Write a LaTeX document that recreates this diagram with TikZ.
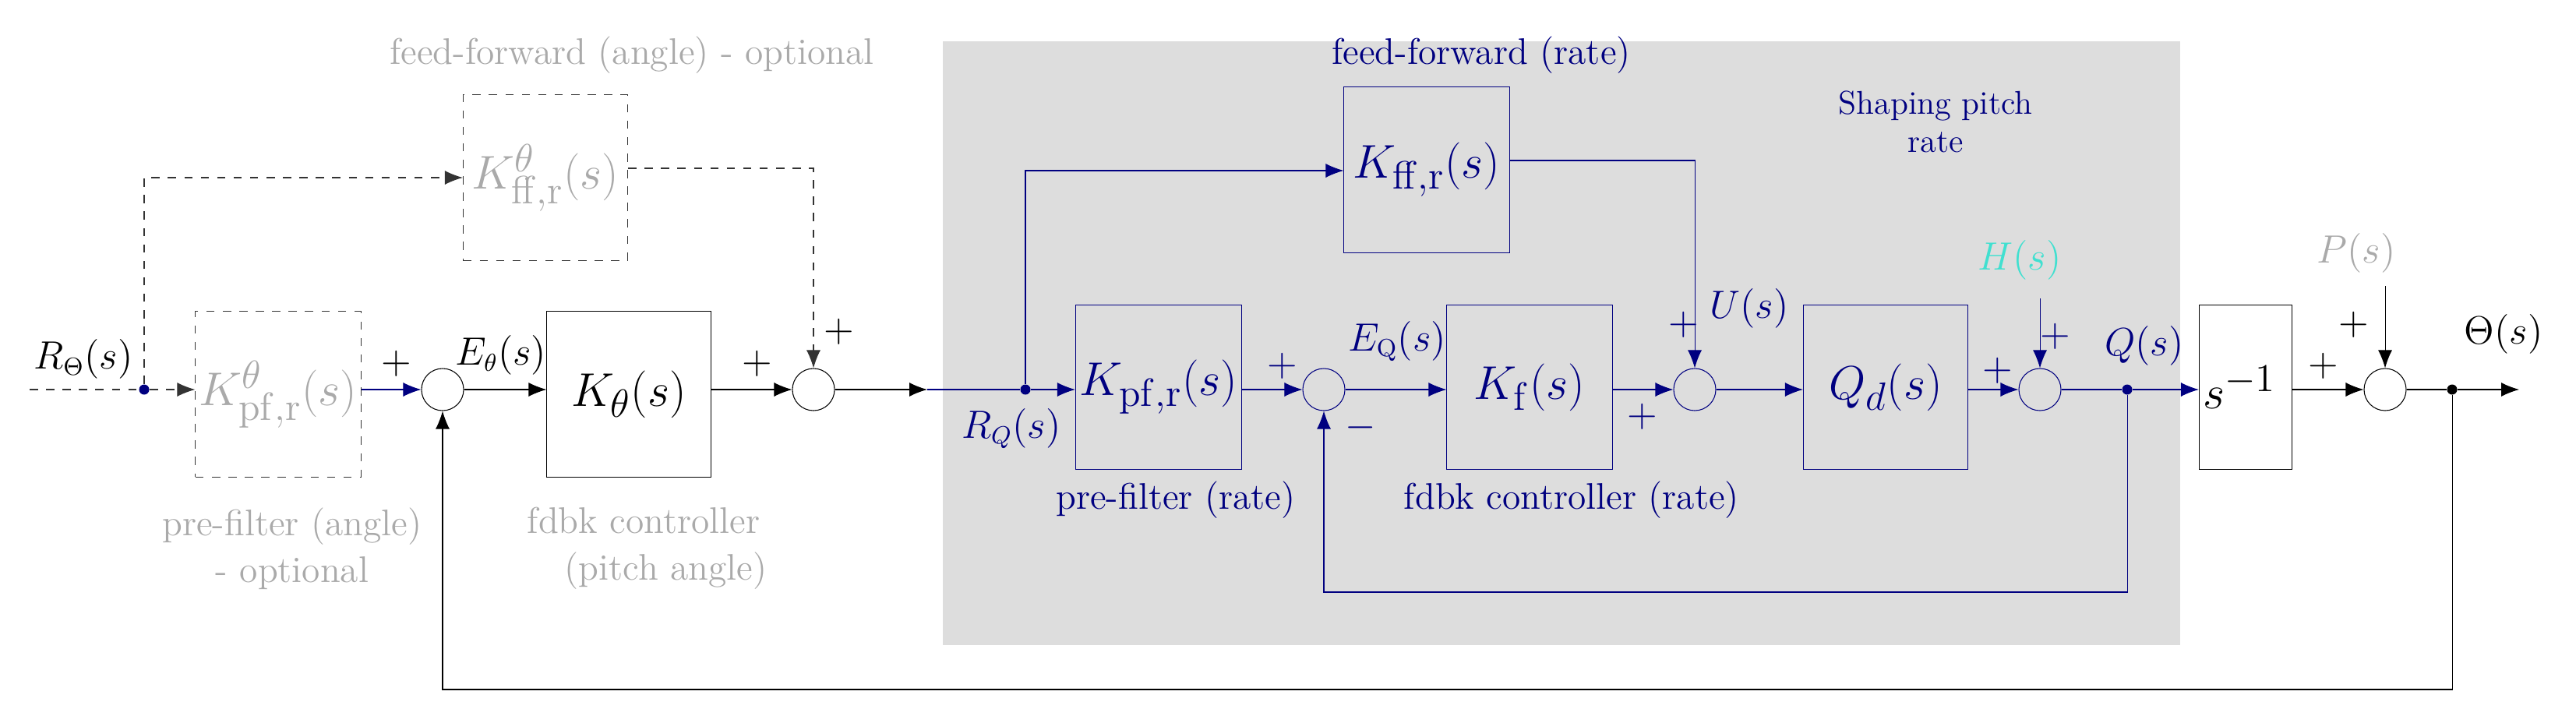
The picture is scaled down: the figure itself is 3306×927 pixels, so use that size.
\documentclass[tikz,border=0pt]{standalone}
\usetikzlibrary{arrows.meta}
\definecolor{nv}{RGB}{0,0,128}
\definecolor{gt}{RGB}{170,170,170}
\definecolor{cy}{RGB}{64,224,208}
\definecolor{bgg}{RGB}{221,221,221}
\begin{document}
\begin{tikzpicture}[x=0.01cm,y=-0.01cm,line width=0.3pt,
  arr/.style={-{Latex[length=0.23cm,width=0.18cm]}},
  blk/.style={draw,rectangle,inner sep=0pt,font=\fontsize{19}{22}\selectfont},
  sm/.style={draw,circle,minimum size=0.54cm,inner sep=0pt},
  dot/.style={circle,fill,inner sep=0pt,minimum size=0.13cm},
  lb/.style={font=\fontsize{13.5}{17}\selectfont},
  pl/.style={font=\Large}]
\useasboundingbox (0,0) rectangle (3306,927);
\fill[bgg] (1210,53) rectangle (2798,828);
% left part
\coordinate (in) at (38,500);
\node[dot,nv] (d0) at (185,500) {};
\node[blk,dashed,gt,draw=black!80,minimum width=2.12cm,minimum height=2.12cm] (kpft) at (357,506) {$K^{\theta}_{\mathrm{pf,r}}(s)$};
\node[sm,fill=white] (s1) at (568,500) {};
\node[blk,minimum width=2.1cm,minimum height=2.12cm] (kt) at (807,506) {$K_{\theta}(s)$};
\node[sm,fill=white] (s2) at (1044,500) {};
\node[blk,dashed,gt,draw=black!80,minimum width=2.11cm,minimum height=2.12cm] (kfft) at (700,228) {$K^{\theta}_{\mathrm{ff,r}}(s)$};
\draw[dashed,black!80] (in) -- (d0);
\draw[dashed,black!80,arr] (d0) -- (kpft.west |- d0);
\draw[dashed,black!80,arr] (d0) |- (kfft.west);
\draw[dashed,black!80,arr] (kfft.east |- 0,216) -| (s2.north);
\draw[nv,arr] (kpft.east |- s1) -- (s1.west);
\draw[arr] (s1.east) -- (kt.west |- s1);
\draw[arr] (kt.east |- s2) -- (s2.west);
\node[lb] at (107,461) {$R_{\Theta}(s)$};
\node[pl] at (509,467) {$+$};
\node[lb] at (643,456) {$E_{\theta}(s)$};
\node[pl] at (972,467) {$+$};
\node[pl] at (1077,426) {$+$};
\node[lb,gt] at (811,71) {feed-forward (angle) - optional};
\node[lb,gt,align=center] at (375,704) {pre-filter (angle)\\- optional};
\node[lb,gt,align=center] at (826,704) {fdbk controller\\\hspace{1.2em}(pitch angle)};
% rate loop
\coordinate (m1) at (1190,500);
\node[dot,nv] (d1) at (1316,500) {};
\node[blk,nv,minimum width=2.13cm,minimum height=2.11cm] (kpf) at (1487,497) {$K_{\mathrm{pf,r}}(s)$};
\node[sm,nv] (s4) at (1699,500) {};
\node[blk,nv,minimum width=2.12cm,minimum height=2.11cm] (kf) at (1963,497) {$K_{\mathrm{f}}(s)$};
\node[sm,nv] (s3) at (2175,500) {};
\node[blk,nv,minimum width=2.12cm,minimum height=2.12cm] (kff) at (1831,218) {$K_{\mathrm{ff,r}}(s)$};
\node[blk,nv,minimum width=2.11cm,minimum height=2.11cm] (qd) at (2420,497) {$Q_d(s)$};
\node[sm,nv] (s5) at (2618,500) {};
\node[dot,nv] (dq) at (2730,500) {};
\coordinate (h) at (2618,383);
\draw[arr] (s2.east) -- (m1);
\draw[nv] (m1) -- (d1);
\draw[nv,arr] (d1) -- (kpf.west |- d1);
\draw[nv,arr] (d1) |- (kff.west |- 0,219);
\draw[nv,arr] (kff.east |- 0,206) -| (s3.north);
\draw[nv,arr] (kpf.east |- s4) -- (s4.west);
\draw[nv,arr] (s4.east) -- (kf.west |- s4);
\draw[nv,arr] (kf.east |- s3) -- (s3.west);
\draw[nv,arr] (s3.east) -- (qd.west |- s3);
\draw[nv,arr] (qd.east |- s5) -- (s5.west);
\draw[nv,arr] (h) -- (s5.north);
\draw[nv] (s5.east) -- (dq);
\draw[nv,arr] (dq) |- (1699,760) -- (s4.south);
\node[lb,nv] at (1298,550) {$R_Q(s)$};
\node[pl,nv] at (1646,470) {$+$};
\node[pl,nv] at (1746,549) {$-$};
\node[lb,nv] at (1793,438) {$E_{\mathrm{Q}}(s)$};
\node[pl,nv] at (2161,417) {$+$};
\node[pl,nv] at (2108,535) {$+$};
\node[lb,nv] at (2245,396) {$U(s)$};
\node[lb,cy] at (2592,334) {$H(s)$};
\node[pl,nv] at (2638,432) {$+$};
\node[pl,nv] at (2564,476) {$+$};
\node[lb,nv] at (2752,444) {$Q(s)$};
\node[lb,nv] at (1901,71) {feed-forward (rate)};
\node[nv,align=center,font=\large] at (2484,156) {Shaping pitch\\rate};
\node[lb,nv] at (1509,642) {pre-filter (rate)};
\node[lb,nv] at (2017,642) {fdbk controller (rate)};
% plant
\node[blk,fill=white,minimum width=1.19cm,minimum height=2.11cm,text width=1.1cm,align=left] (si) at (2882,497) {$s^{-1}$\\[0.5cm]};
\node[sm] (s6) at (3061,500) {};
\node[dot] (dt) at (3147,500) {};
\coordinate (out) at (3233,500);
\coordinate (p) at (3061,367);
\draw[nv,arr] (dq) -- (si.west |- dq);
\draw[arr] (si.east |- s6) -- (s6.west);
\draw[arr] (p) -- (s6.north);
\draw (s6.east) -- (dt);
\draw[arr] (dt) -- (out);
\draw[arr] (dt) |- (568,885) -- (s1.south);
\node[pl] at (2982,470) {$+$};
\node[pl] at (3021,417) {$+$};
\node[lb,gt] at (3024,325) {$P(s)$};
\node[lb] at (3213,429) {$\Theta(s)$};
\end{tikzpicture}
\end{document}
